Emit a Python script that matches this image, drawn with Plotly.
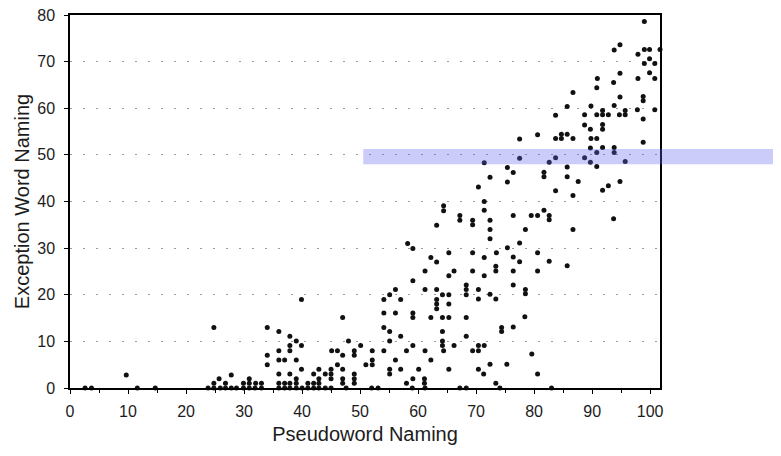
import plotly.graph_objects as go

# Pseudoword naming (x) and exception word naming (y) scores
pseudoword = [
    2.6, 3.7, 11.6, 14.7, 23.8, 24.8, 25.9, 26.8, 27.8, 28.7, 29.9, 30.9, 31.9, 33.0, 36.0, 37.0, 37.9,
    39.0, 40.0, 41.0, 42.0, 42.9, 44.0, 45.0, 47.6, 52.0, 53.1, 59.0, 61.2, 67.2, 68.3, 74.1, 83.0,
    24.8, 26.8, 29.9, 30.9, 32.0, 33.0, 36.0, 37.0, 37.9, 39.0, 41.0, 42.0, 42.9, 47.0, 49.0, 58.0, 61.1, 73.4,
    25.7, 30.9, 39.0, 42.9, 45.0, 47.0, 49.0, 59.1, 61.1,
    9.7, 27.8, 36.0, 37.9, 42.0, 44.0, 45.0, 49.0, 55.1, 71.3, 80.6,
    39.9, 42.9, 45.0, 47.0, 55.1, 57.0, 60.1, 65.3, 70.4,
    34.0, 46.1, 51.0, 52.1, 72.4, 75.3,
    36.0, 37.0, 39.0, 52.1, 56.1, 62.2,
    34.0, 47.0, 49.0, 79.6,
    36.0, 37.9, 45.1, 46.1, 49.0, 52.1, 54.1, 58.0, 61.2, 64.4, 69.4, 70.4,
    37.9, 39.9, 50.1, 59.1, 64.2, 66.2, 70.4, 71.4,
    39.0, 48.0, 55.1, 64.2,
    37.9, 57.0, 68.3,
    36.0, 55.1, 64.2, 74.4,
    24.8, 34.0, 54.1, 74.4, 76.4,
    47.0, 59.1, 62.2, 64.2, 65.3, 68.3, 78.4,
    54.1, 56.1, 59.1,
    63.2,
    63.2, 65.3,
    39.9, 54.1, 57.0, 63.2, 70.4, 73.4,
    55.1, 64.2, 65.3, 68.3, 72.4, 78.5,
    56.1, 61.2, 63.2, 68.3, 70.4, 78.5,
    68.3, 76.4,
    59.1,
    65.3, 71.4,
    61.2, 66.2, 69.4, 73.4, 76.4, 80.6,
    73.4, 85.7,
    63.2, 77.5, 82.6,
    62.2, 71.4, 76.4,
    65.3, 69.4, 73.5, 80.6,
    59.1, 75.4,
    58.2, 77.5,
    72.4,
    72.4, 78.5, 86.7,
    63.2, 69.4,
    67.2, 69.4, 72.4, 82.6, 93.7,
    67.2, 76.4, 79.5, 80.6, 82.6,
    64.4, 71.4, 81.7,
    64.4,
    71.4,
    86.7,
    83.7, 91.8,
    70.4, 92.8,
    75.4, 87.6, 94.8,
    72.4, 81.7, 85.7,
    76.4, 81.7,
    75.4, 85.7, 90.8,
    71.4, 82.6, 89.7, 95.7,
    77.5, 83.7, 88.7,
    90.8, 93.8,
    89.7, 91.8, 93.8,
    98.8,
    77.5, 83.7, 84.7, 86.7, 89.8, 90.8,
    80.6, 84.7, 85.7,
    89.7, 91.8,
    88.7, 91.8,
    98.8,
    83.7, 88.7, 90.8, 91.8, 92.8, 94.7, 95.7,
    91.8, 95.7, 97.8, 100.8,
    85.7, 89.8, 93.8,
    98.8,
    94.8, 98.8,
    86.7,
    90.8,
    93.7,
    90.9, 97.9, 100.8,
    94.8, 99.9,
    99.0, 100.8,
    99.9,
    97.9,
    93.8, 99.0, 99.9, 101.7,
    94.8,
    99.0,
]

exception = [
    0, 0, 0, 0, 0, 0, 0, 0, 0, 0, 0, 0, 0, 0, 0, 0, 0,
    0, 0, 0, 0, 0, 0, 0, 0, 0, 0, 0, 0, 0, 0, 0, 0,
    1.0, 1.0, 1.0, 1.0, 1.0, 1.0, 1.0, 1.0, 1.0, 1.0, 1.0, 1.0, 1.0, 1.0, 1.0, 1.0, 1.0, 1.0,
    2.0, 2.0, 2.0, 2.0, 2.0, 2.0, 2.0, 2.0, 2.0,
    2.8, 2.8, 3.0, 3.0, 3.0, 3.0, 3.0, 3.0, 3.0, 3.0, 3.0,
    4.0, 4.0, 4.0, 4.0, 4.0, 4.0, 4.0, 4.0, 4.0,
    5.0, 5.0, 5.0, 5.0, 5.1, 5.1,
    6.0, 6.0, 6.0, 6.0, 6.0, 6.0,
    7.0, 7.0, 7.0, 7.3,
    8.0, 8.0, 8.0, 8.0, 8.0, 8.0, 8.0, 8.0, 8.0, 8.0, 8.0, 8.0,
    9.1, 9.1, 9.1, 9.1, 9.1, 9.1, 9.1, 9.1,
    10.1, 10.1, 10.1, 10.1,
    11.1, 11.1, 11.1,
    12.1, 12.1, 12.1, 12.1,
    13.0, 13.0, 13.0, 13.0, 13.1,
    15.1, 15.1, 15.1, 15.1, 15.1, 15.1, 15.3,
    16.1, 16.1, 16.1,
    17.0,
    18.0, 18.0,
    19.0, 19.0, 19.0, 19.0, 19.1, 19.1,
    20.0, 20.0, 20.0, 20.0, 20.1, 20.2,
    21.1, 21.1, 21.1, 21.1, 21.1, 21.1,
    22.1, 22.1,
    23.0,
    24.1, 24.1,
    25.1, 25.1, 25.1, 25.1, 25.1, 25.1,
    26.1, 26.2,
    27.0, 27.1, 27.2,
    28.0, 28.0, 28.1,
    29.0, 29.0, 29.0, 29.0,
    29.9, 30.1,
    31.0, 31.1,
    32.0,
    34.0, 34.0, 34.0,
    34.9, 35.0,
    36.0, 36.0, 36.0, 36.1, 36.3,
    37.0, 37.0, 37.0, 37.0, 37.0,
    38.0, 38.1, 38.1,
    39.1,
    40.0,
    41.3,
    42.3, 42.4,
    43.1, 43.4,
    44.2, 44.3, 44.3,
    45.2, 45.3, 45.3,
    46.2, 46.3,
    47.3, 47.4, 47.5,
    48.3, 48.4, 48.4, 48.6,
    49.3, 49.4, 49.4,
    50.5, 50.5,
    51.5, 51.6, 51.6,
    52.7,
    53.4, 53.5, 53.5, 53.5, 53.5, 53.5,
    54.3, 54.4, 54.4,
    55.5, 55.5,
    56.4, 56.5,
    57.7,
    58.5, 58.6, 58.6, 58.6, 58.6, 58.6, 58.6,
    59.5, 59.5, 59.7, 59.7,
    60.4, 60.5, 60.6,
    61.6,
    62.4, 62.5,
    63.4,
    64.4,
    65.5,
    66.4, 66.4, 66.4,
    67.5, 67.6,
    69.6, 69.6,
    70.6,
    71.6,
    72.5, 72.6, 72.6, 72.6,
    73.6,
    78.6,
]

x_ticks = [0, 10, 20, 30, 40, 50, 60, 70, 80, 90, 100]
y_ticks = [0, 10, 20, 30, 40, 50, 60, 70, 80]

FONT = "Liberation Sans, Arial, Helvetica, sans-serif"
INK = "#1c1c1c"

fig = go.Figure()
fig.add_trace(go.Scatter(
    x=pseudoword, y=exception, mode="markers",
    marker=dict(size=5, color="#111111"),
    cliponaxis=False, showlegend=False, hoverinfo="x+y",
))

# the page body has an 8px default margin, so margins are offset to compensate
fig.update_layout(
    width=781, height=456,
    margin=dict(l=62, r=129, t=7, b=76, autoexpand=False),
    paper_bgcolor="white", plot_bgcolor="white",
    font=dict(family=FONT, color=INK, size=16),
    shapes=[dict(
        type="rect", xref="paper", yref="paper", layer="above",
        x0=0.497, x1=1.25, y0=0.600, y1=0.641,
        fillcolor="rgba(100,100,240,0.33)", line=dict(width=0),
    )],
)

fig.update_xaxes(
    range=[0, 101.7], tickmode="array", tickvals=x_ticks,
    ticks="outside", ticklen=4, tickcolor="black", tickwidth=1,
    minor=dict(dtick=5, tick0=0, ticks="outside", ticklen=3, tickcolor="black"),
    ticklabelstandoff=4, ticklabeloverflow="allow",
    showgrid=False, zeroline=False, automargin=False,
    showline=True, linecolor="black", linewidth=1.5, mirror=True,
    tickfont=dict(size=16, family=FONT, color=INK),
    title=dict(text="Pseudoword Naming", font=dict(size=20, family=FONT, color=INK), standoff=8),
)
fig.update_yaxes(
    range=[0, 80], tickmode="array", tickvals=y_ticks,
    ticks="outside", ticklen=4, tickcolor="black", tickwidth=1,
    ticklabelstandoff=6, ticklabeloverflow="allow", automargin=False,
    showgrid=True, gridcolor="#9a9a9a", gridwidth=1, griddash="2px,11px",
    zeroline=False,
    showline=True, linecolor="black", linewidth=1.5, mirror=True,
    tickfont=dict(size=16, family=FONT, color=INK),
    title=dict(text="Exception Word Naming", font=dict(size=20, family=FONT, color=INK), standoff=2),
)

fig.write_html("out.html")
